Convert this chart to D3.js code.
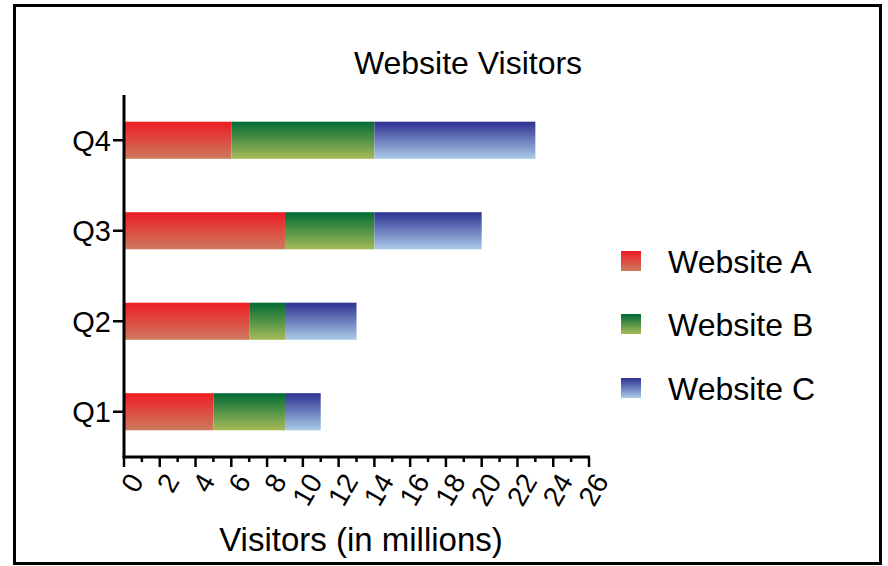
<!DOCTYPE html>
<html><head><meta charset="utf-8">
<script src="https://cdn.jsdelivr.net/npm/d3@7"></script>
<style>body{margin:0;background:#fff;} text{font-family:"Liberation Sans",Arial,sans-serif;fill:#000;}</style>
</head><body>
<svg id="chart" width="888" height="566"></svg>
<script>
const categories = ["Q1", "Q2", "Q3", "Q4"];
const seriesNames = ["Website A", "Website B", "Website C"];
const websiteA = [5, 7, 9, 6];
const websiteB = [4, 2, 5, 8];
const websiteC = [2, 4, 6, 9];
const xTicks = d3.range(0, 27, 2);
const gradTop = ["#ed1c24", "#006b35", "#2e3192"];
const gradBottom = ["#cd7a5f", "#a6bb57", "#aacbe8"];

(function () {
const svg = d3.select("#chart");
svg.append("rect").attr("x", 14.5).attr("y", 5.5).attr("width", 866).attr("height", 558)
  .attr("fill", "#fff").attr("stroke", "#000").attr("stroke-width", 3);

const defs = svg.append("defs");
seriesNames.forEach((n, i) => {
  const g = defs.append("linearGradient").attr("id", "g" + i)
    .attr("x1", 0).attr("y1", 0).attr("x2", 0).attr("y2", 1);
  g.append("stop").attr("offset", "0%").attr("stop-color", gradTop[i]);
  g.append("stop").attr("offset", "100%").attr("stop-color", gradBottom[i]);
});

const pL = 124, pR = 589, pT = 95, pB = 457;
const x = d3.scaleLinear().domain([0, 26]).range([pL, pR]);
const y = d3.scaleBand().domain(categories.slice().reverse()).range([pT, pB]).paddingInner(0.59).paddingOuter(0.295);

const rows = categories.map((c, i) => ({cat: c, A: websiteA[i], B: websiteB[i], C: websiteC[i]}));
const stack = d3.stack().keys(["A", "B", "C"])(rows);

stack.forEach((layer, i) => {
  svg.append("g").selectAll("rect").data(layer).join("rect")
    .attr("x", d => x(d[0])).attr("width", d => x(d[1]) - x(d[0]))
    .attr("y", d => y(d.data.cat)).attr("height", y.bandwidth())
    .attr("fill", `url(#g${i})`);
});

// X axis
const xa = svg.append("g");
xa.append("line").attr("x1", pL - 1.5).attr("x2", pR + 1).attr("y1", pB).attr("y2", pB)
  .attr("stroke", "#000").attr("stroke-width", 3);
d3.range(0, 27, 1).forEach(v => {
  xa.append("line").attr("x1", x(v)).attr("x2", x(v)).attr("y1", pB)
    .attr("y2", pB + (v % 2 === 0 ? 10 : 5)).attr("stroke", "#000").attr("stroke-width", 2.5);
});
xa.selectAll("text.tick").data(xTicks).join("text").attr("class", "tick")
  .attr("transform", d => `translate(${x(d) + 12},${pB + 19}) rotate(-60)`)
  .attr("text-anchor", "end").attr("dy", "0.35em").attr("font-size", 28).text(d => d);

// Y axis
const ya = svg.append("g");
ya.append("line").attr("x1", pL).attr("x2", pL).attr("y1", pT).attr("y2", pB)
  .attr("stroke", "#000").attr("stroke-width", 3);
categories.forEach(c => {
  const cy = y(c) + y.bandwidth() / 2;
  ya.append("line").attr("x1", pL - 11).attr("x2", pL).attr("y1", cy).attr("y2", cy)
    .attr("stroke", "#000").attr("stroke-width", 2.5);
  ya.append("text").attr("x", pL - 13).attr("y", cy).attr("dy", "0.36em")
    .attr("text-anchor", "end").attr("font-size", 29).text(c);
});

svg.append("text").attr("x", 468).attr("y", 74).attr("text-anchor", "middle")
  .attr("font-size", 32).text("Website Visitors");
svg.append("text").attr("x", 361).attr("y", 551).attr("text-anchor", "middle")
  .attr("font-size", 33).text("Visitors (in millions)");

// Legend
const legY = [261, 324, 388];
seriesNames.forEach((n, i) => {
  svg.append("rect").attr("x", 621).attr("y", legY[i] - 10).attr("width", 20).attr("height", 20)
    .attr("fill", `url(#g${i})`);
  svg.append("text").attr("x", 668).attr("y", legY[i]).attr("dy", "0.36em")
    .attr("font-size", 32).text(n);
});
})();
</script>
</body></html>
